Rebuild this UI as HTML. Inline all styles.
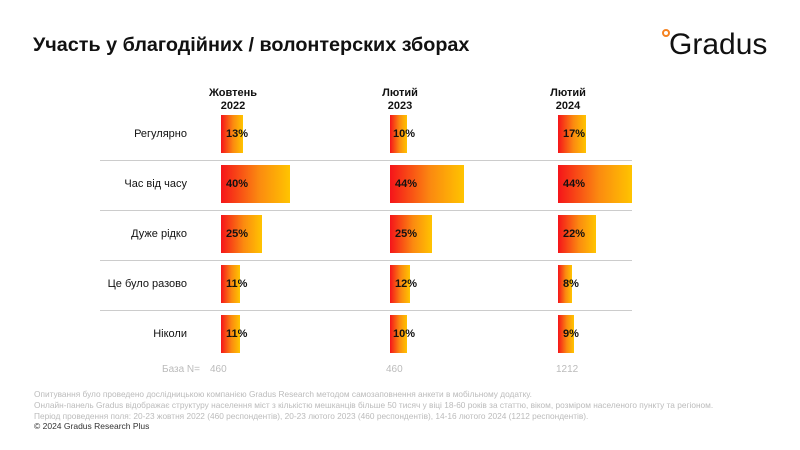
<!DOCTYPE html><html><head><meta charset="utf-8"><style>
body{margin:0;width:800px;height:450px;background:#fff;font-family:"Liberation Sans",sans-serif;position:relative;overflow:hidden}
.a{position:absolute}
.t{left:33px;top:34px;font-size:19.8px;font-weight:bold;color:#111}
.h{font-size:11px;font-weight:bold;text-align:center;width:80px;line-height:13px;color:#111}
.l{font-size:11px;color:#111;text-align:right;width:160px;left:27px}
.ln{left:100px;width:532px;height:1px;background:#ccc}
.b{height:38px;background:linear-gradient(90deg,#f5141a,#fb8a10 55%,#ffc400)}
.v{font-size:11px;font-weight:bold;color:#111}
.g{color:#bbb;font-size:10px}
.f{color:#bbb;font-size:8.3px;left:34px;line-height:11px}
</style></head><body>
<div class="a t">Участь у благодійних / волонтерских зборах</div>
<div class="a" style="left:662px;top:29px;width:8px;height:8px;border-radius:50%;border:2px solid #f58220;box-sizing:border-box"></div>
<div class="a" style="left:669px;top:28px;font-size:30px;color:#111">Gradus</div>
<div class="a h" style="left:193px;top:87px">Жовтень<br>2022</div>
<div class="a h" style="left:360px;top:87px">Лютий<br>2023</div>
<div class="a h" style="left:528px;top:87px">Лютий<br>2024</div>
<div class="a l" style="top:128px">Регулярно</div>
<div class="a l" style="top:178px">Час від часу</div>
<div class="a l" style="top:228px">Дуже рідко</div>
<div class="a l" style="top:278px">Це було разово</div>
<div class="a l" style="top:328px">Ніколи</div>
<div class="a ln" style="top:160px"></div><div class="a ln" style="top:210px"></div><div class="a ln" style="top:260px"></div><div class="a ln" style="top:310px"></div>

<div class="a b" style="left:221px;top:115px;width:22px"></div><div class="a v" style="left:226px;top:128px">13%</div>
<div class="a b" style="left:221px;top:165px;width:69px"></div><div class="a v" style="left:226px;top:178px">40%</div>
<div class="a b" style="left:221px;top:215px;width:41px"></div><div class="a v" style="left:226px;top:228px">25%</div>
<div class="a b" style="left:221px;top:265px;width:19px"></div><div class="a v" style="left:226px;top:278px">11%</div>
<div class="a b" style="left:221px;top:315px;width:19px"></div><div class="a v" style="left:226px;top:328px">11%</div>

<div class="a b" style="left:390px;top:115px;width:17px"></div><div class="a v" style="left:393px;top:128px">10%</div>
<div class="a b" style="left:390px;top:165px;width:74px"></div><div class="a v" style="left:395px;top:178px">44%</div>
<div class="a b" style="left:390px;top:215px;width:42px"></div><div class="a v" style="left:395px;top:228px">25%</div>
<div class="a b" style="left:390px;top:265px;width:20px"></div><div class="a v" style="left:395px;top:278px">12%</div>
<div class="a b" style="left:390px;top:315px;width:17px"></div><div class="a v" style="left:393px;top:328px">10%</div>

<div class="a b" style="left:558px;top:115px;width:28px"></div><div class="a v" style="left:563px;top:128px">17%</div>
<div class="a b" style="left:558px;top:165px;width:74px"></div><div class="a v" style="left:563px;top:178px">44%</div>
<div class="a b" style="left:558px;top:215px;width:38px"></div><div class="a v" style="left:563px;top:228px">22%</div>
<div class="a b" style="left:558px;top:265px;width:14px"></div><div class="a v" style="left:563px;top:278px">8%</div>
<div class="a b" style="left:558px;top:315px;width:16px"></div><div class="a v" style="left:563px;top:328px">9%</div>

<div class="a g" style="left:162px;top:364px">База N=</div>
<div class="a g" style="left:210px;top:364px">460</div>
<div class="a g" style="left:386px;top:364px">460</div>
<div class="a g" style="left:556px;top:364px">1212</div>
<div class="a f" style="top:389px">Опитування було проведено дослідницькою компанією Gradus Research методом самозаповнення анкети в мобільному додатку.<br>Онлайн-панель Gradus відображає структуру населення міст з кількістю мешканців більше 50 тисяч у віці 18-60 років за статтю, віком, розміром населеного пункту та регіоном.<br>Період проведення поля: 20-23 жовтня 2022 (460 респондентів), 20-23 лютого 2023 (460 респондентів), 14-16 лютого 2024 (1212 респондентів).</div>
<div class="a" style="left:34px;top:421px;font-size:8.5px;color:#333">© 2024 Gradus Research Plus</div>
</body></html>
